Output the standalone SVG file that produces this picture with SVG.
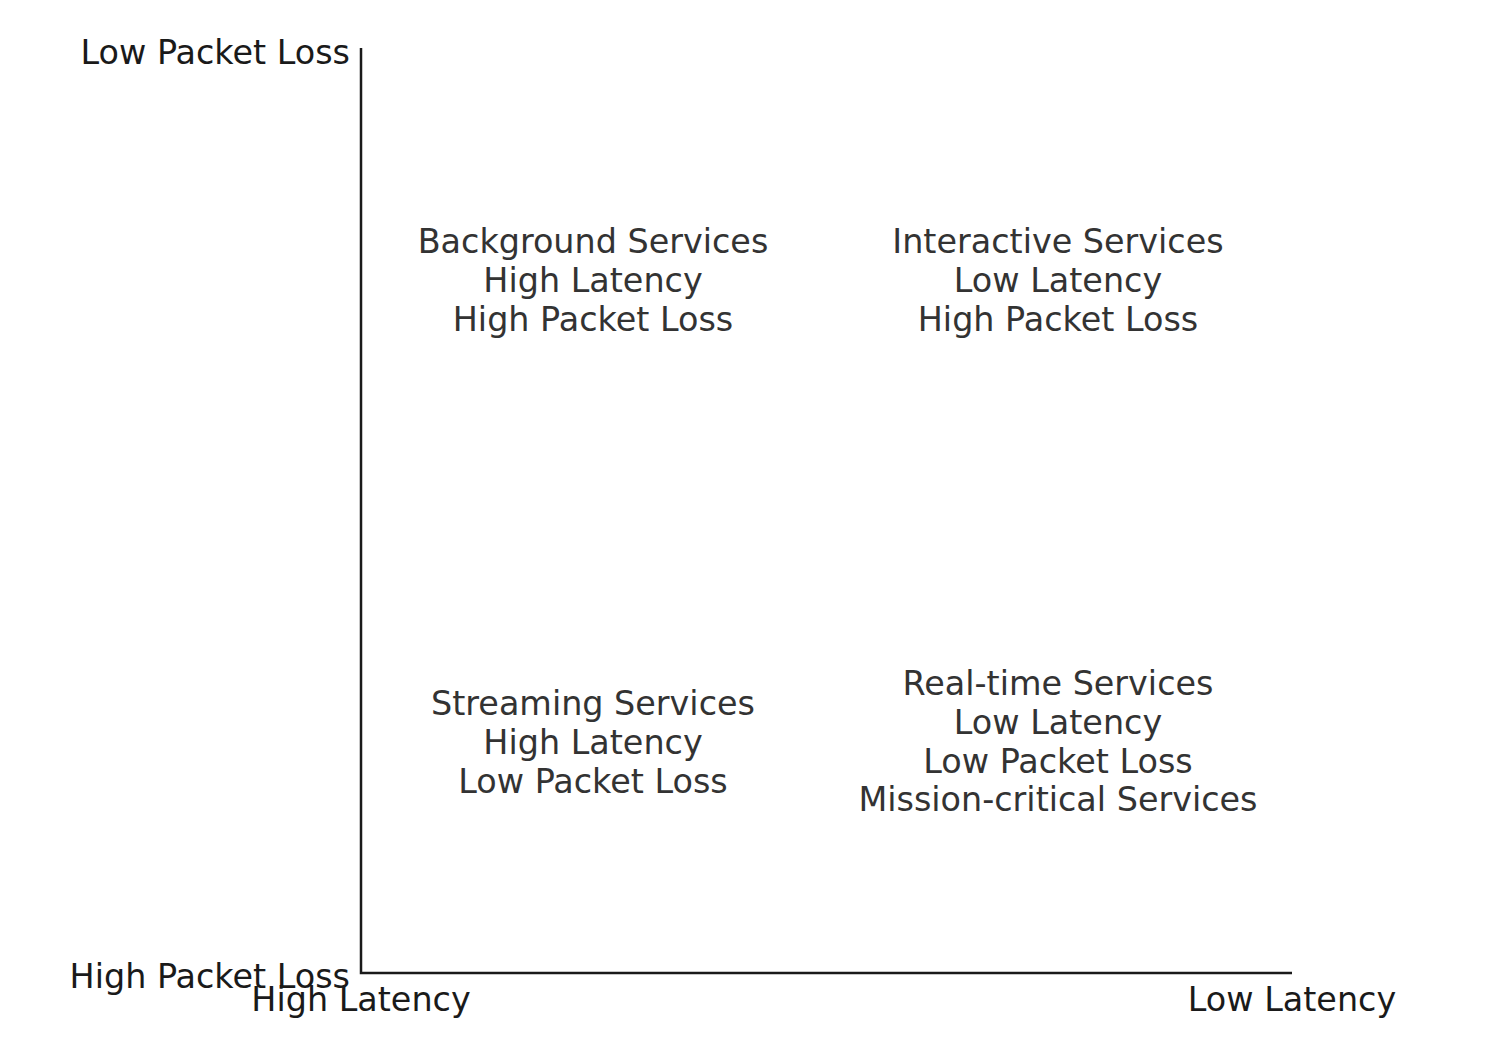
<svg xmlns="http://www.w3.org/2000/svg" width="1507" height="1046" viewBox="0 0 1507 1046">
<style>
.ax{font-family:"DejaVu Sans",sans-serif;font-size:33.4px;fill:#1a1a1a}
.q{font-family:"DejaVu Sans",sans-serif;font-size:33.4px;fill:#333333;text-anchor:middle}
.axis{stroke:#1a1a1a;stroke-width:2.5;fill:none}
</style>
<rect width="1507" height="1046" fill="#ffffff"/>
<g id="axes">
<path class="axis" d="M361,48 V973 H1292"/>
</g>
<g id="axis-labels">
<text class="ax" x="350" y="64" text-anchor="end">Low Packet Loss</text>
<text class="ax" x="350" y="988" text-anchor="end">High Packet Loss</text>
<text class="ax" x="361" y="1011" text-anchor="middle">High Latency</text>
<text class="ax" x="1292" y="1011" text-anchor="middle">Low Latency</text>
</g>
<g id="q-background">
<text class="q" x="593" y="253">Background Services</text>
<text class="q" x="593" y="292">High Latency</text>
<text class="q" x="593" y="331">High Packet Loss</text>
</g>
<g id="q-interactive">
<text class="q" x="1058" y="253">Interactive Services</text>
<text class="q" x="1058" y="292">Low Latency</text>
<text class="q" x="1058" y="331">High Packet Loss</text>
</g>
<g id="q-streaming">
<text class="q" x="593" y="715">Streaming Services</text>
<text class="q" x="593" y="754">High Latency</text>
<text class="q" x="593" y="793">Low Packet Loss</text>
</g>
<g id="q-realtime">
<text class="q" x="1058" y="695">Real-time Services</text>
<text class="q" x="1058" y="734">Low Latency</text>
<text class="q" x="1058" y="773">Low Packet Loss</text>
<text class="q" x="1058" y="811">Mission-critical Services</text>
</g>
</svg>
